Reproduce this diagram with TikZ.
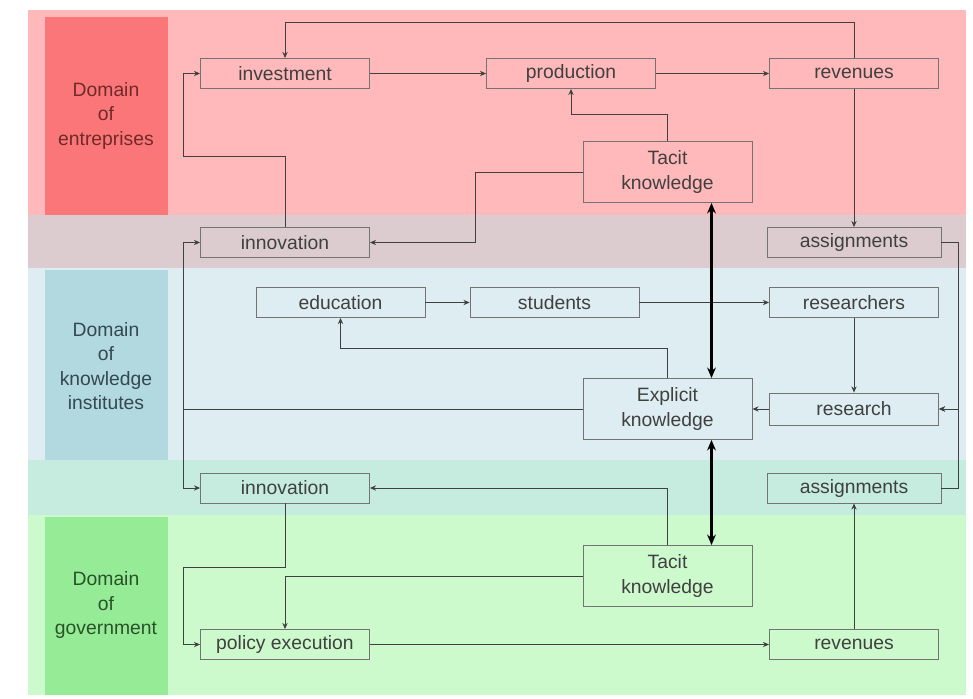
\documentclass[tikz,border=0pt]{standalone}
\usepackage{fontspec}
\setmainfont{Liberation Sans}
\usetikzlibrary{arrows.meta, calc}

\definecolor{bandE}{RGB}{255,185,186}
\definecolor{bandEK}{RGB}{220,204,208}
\definecolor{bandK}{RGB}{221,237,242}
\definecolor{bandKG}{RGB}{197,236,222}
\definecolor{bandG}{RGB}{205,250,205}
\definecolor{domE}{RGB}{250,118,120}
\definecolor{domK}{RGB}{178,217,223}
\definecolor{domG}{RGB}{150,236,150}
\definecolor{txtE}{RGB}{112,42,42}
\definecolor{txtK}{RGB}{52,72,82}
\definecolor{txtG}{RGB}{42,82,42}

\begin{document}
\begin{tikzpicture}[
    x=0.02cm, y=-0.02cm,
    >=Stealth,
    font=\fontsize{11}{14}\selectfont,
    box/.style={draw=black!55, line width=0.5pt, text=black!75, inner sep=0pt,
        minimum width=3.38cm, minimum height=0.6cm},
    knowbox/.style={box, minimum height=1.22cm, align=center},
    domainlabel/.style={align=center},
    link/.style={draw=black!75, line width=0.5pt, -{Stealth[length=3.5pt, width=3pt]}},
    exchange/.style={line width=1.6pt, {Stealth[length=6pt, width=5pt]}-{Stealth[length=6pt, width=5pt]}},
]

\useasboundingbox (0,0) rectangle (973,699);

% =============================================================================
% Bands and domains
% =============================================================================
\fill[bandE]  (28,10)  rectangle (966,215);
\fill[bandEK] (28,215) rectangle (966,268);
\fill[bandK]  (28,268) rectangle (966,460);
\fill[bandKG] (28,460) rectangle (966,515);
\fill[bandG]  (28,515) rectangle (966,695);

\fill[domE] (45,17)  rectangle (168,215);
\fill[domK] (45,270) rectangle (168,460);
\fill[domG] (45,517) rectangle (168,695);

\node[domainlabel, text=txtE] (domEnt) at (106,116) {Domain\\of\\entreprises};
\node[domainlabel, text=txtK] (domKno) at (106,366) {Domain\\of\\knowledge\\institutes};
\node[domainlabel, text=txtG] (domGov) at (106,605) {Domain\\of\\government};

% =============================================================================
% Nodes
% =============================================================================
% --- Entreprises ---
\node[box] (invest) at (285,73.5) {investment};
\node[box] (prod)   at (571,73.5) {production};
\node[box] (revE)   at (854,73.5) {revenues};
\node[knowbox] (tacitE) at (667.5,172) {Tacit\\knowledge};
\node[box] (innovE) at (285,242.5) {innovation};
\node[box, minimum width=3.48cm] (assignE) at (854,242.5) {assignments};

% --- Knowledge institutes ---
\node[box] (edu)  at (340.5,302.5) {education};
\node[box] (stud) at (554.5,302.5) {students};
\node[box] (resr) at (854,302.5) {researchers};
\node[knowbox] (expl) at (667.5,409) {Explicit\\knowledge};
\node[box, minimum height=0.64cm] (rsch) at (854,409) {research};

% --- Government ---
\node[box] (innovG) at (285,488) {innovation};
\node[box, minimum width=3.48cm] (assignG) at (854,488) {assignments};
\node[knowbox] (tacitG) at (667.5,576) {Tacit\\knowledge};
\node[box] (policy) at (285,644.5) {policy execution};
\node[box] (revG)   at (854,644.5) {revenues};

% =============================================================================
% Connectors
% =============================================================================
\coordinate (leftrail)  at (183,0);
\coordinate (rightrail) at (958,0);
\coordinate (topline)   at (0,22);

\foreach \a/\b in {invest/prod, prod/revE, edu/stud, stud/resr, policy/revG, rsch/expl}
    \draw[link] (\a) -- (\b);

% --- Entreprises ---
\draw[link] (revE.north) -- (revE.north |- topline) -| (invest.north);
\draw[link] (revE.south) -- (assignE.north);
\draw[link] (tacitE.north) -- ++(0,-27) -| (prod.south);
\draw[link] (tacitE.west) -- ++(-107,0) |- (innovE.east);
\draw[link] (innovE.north) -- ++(0,-71) -| (leftrail |- invest.west) -- (invest.west);

% --- Knowledge institutes ---
\draw[link] (expl.west) -| (leftrail |- innovE.west) -- (innovE.west);
\draw[link] (expl.west) -| (leftrail |- innovG.west) -- (innovG.west);
\draw[link] (expl.north) -- ++(0,-30) -| (edu.south);
\draw[link] (resr.south) -- (rsch.north);
\draw[link] (assignE.east) -| (rightrail |- rsch.east) -- (rsch.east);
\draw[link] (assignG.east) -| (rightrail |- rsch.east) -- (rsch.east);

% --- Government ---
\draw[link] (tacitG.north) |- (innovG.east);
\draw[link] (innovG.south) -- ++(0,64) -| (leftrail |- policy.west) -- (policy.west);
\draw[link] (tacitG.west) -| (policy.north);
\draw[link] (revG.north) -- (assignG.south);

% --- Knowledge exchange ---
\draw[exchange] ([xshift=0.88cm]tacitE.south) -- ([xshift=0.88cm]expl.north);
\draw[exchange] ([xshift=0.88cm]expl.south) -- ([xshift=0.88cm]tacitG.north);

\end{tikzpicture}
\end{document}
